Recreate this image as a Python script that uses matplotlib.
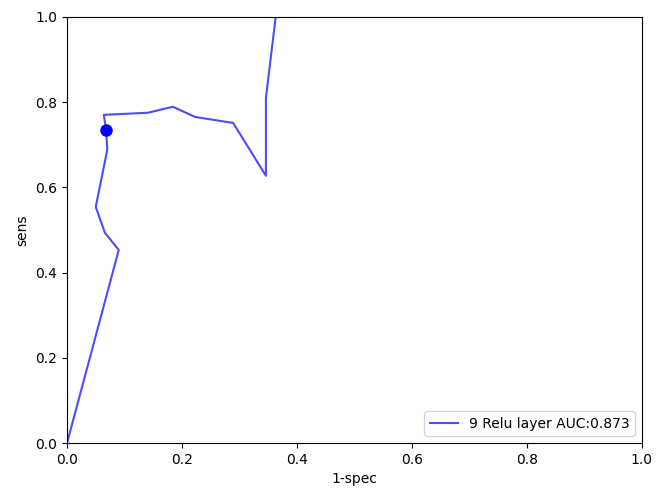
#!/usr/bin/env python3
import numpy as np
import matplotlib
matplotlib.use('Agg')
import matplotlib.pyplot as plt

# roc curve points
fpr = [0.0, 0.090, 0.066, 0.050, 0.070, 0.068, 0.064, 0.141, 0.184, 0.223,
       0.289, 0.346, 0.346, 0.363]
tpr = [0.0, 0.453, 0.493, 0.554, 0.688, 0.735, 0.770, 0.775, 0.789, 0.765,
       0.751, 0.627, 0.810, 1.0]

# operating point
op_x = [0.068]
op_y = [0.735]

label = '9 Relu layer AUC:0.873'

fig = plt.figure(figsize=(6.57, 4.95), dpi=100)
ax = fig.add_axes([0.102, 0.105, 0.875, 0.861])

ax.plot(fpr, tpr, color='blue', alpha=0.7, lw=1.5, label=label)
ax.plot(op_x, op_y, 'o', color='blue', markersize=8)

ax.set_xlim(0, 1)
ax.set_ylim(0, 1)
ax.set_xlabel('1-spec')
ax.set_ylabel('sens')
ax.legend(loc=4)

plt.savefig('out.png', dpi=100)
